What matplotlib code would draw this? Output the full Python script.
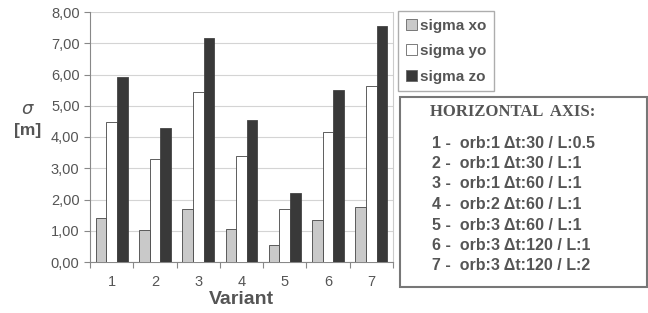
import numpy as np
import matplotlib.pyplot as plt
from matplotlib.patches import Rectangle, Patch

variants = ['1', '2', '3', '4', '5', '6', '7']
sigma_xo = [1.42, 1.01, 1.71, 1.07, 0.53, 1.35, 1.77]
sigma_yo = [4.47, 3.31, 5.45, 3.40, 1.71, 4.17, 5.63]
sigma_zo = [5.91, 4.29, 7.18, 4.56, 2.21, 5.51, 7.56]
series_names = ['sigma xo', 'sigma yo', 'sigma zo']
axis_notes = [
    '1 -  orb:1 \u0394t:30 / L:0.5',
    '2 -  orb:1 \u0394t:30 / L:1',
    '3 -  orb:1 \u0394t:60 / L:1',
    '4 -  orb:2 \u0394t:60 / L:1',
    '5 -  orb:3 \u0394t:60 / L:1',
    '6 -  orb:3 \u0394t:120 / L:1',
    '7 -  orb:3 \u0394t:120 / L:2',
]


def main():
    plt.rcParams['font.family'] = ['Liberation Sans', 'DejaVu Sans']
    text_col = '#555555'
    edge_col = '#444444'
    colors = ['#c9c9c9', '#ffffff', '#393939']

    fig = plt.figure(figsize=(6.48, 3.13), dpi=100)
    ax = fig.add_axes([90 / 648, 51 / 313, 303 / 648, 250 / 313])

    x = np.arange(len(variants))
    w = 0.245
    for k, vals in enumerate([sigma_xo, sigma_yo, sigma_zo]):
        ax.bar(x + (k - 1) * w, vals, width=w, color=colors[k],
               edgecolor=edge_col, linewidth=0.6, zorder=3)

    ax.set_xlim(-0.5, len(variants) - 0.5)
    ax.set_ylim(0, 8)
    ax.set_yticks(np.arange(0, 9, 1))
    ax.yaxis.set_major_formatter(plt.FuncFormatter(lambda v, p: ('%.2f' % v).replace('.', ',')))
    ax.grid(axis='y', color='#d4d4d4', linewidth=0.8, zorder=0)

    # boundary ticks between groups, labels at centres
    ax.set_xticks(np.arange(-0.5, len(variants)), labels=[''] * (len(variants) + 1))
    ax.set_xticks(x, labels=variants, minor=True)
    ax.tick_params(axis='x', which='minor', length=0, pad=9)
    ax.tick_params(axis='both', which='major', length=4, color='#888888')
    ax.tick_params(axis='both', which='both', labelsize=10.5, labelcolor=text_col)

    ax.spines['top'].set_visible(False)
    ax.spines['right'].set_color('#cccccc')
    ax.spines['left'].set_color('#888888')
    ax.spines['bottom'].set_color('#888888')

    ax.set_xlabel('Variant', fontsize=14, fontweight='bold', color=text_col, labelpad=2)
    fig.text(28 / 648, 1 - 110 / 313, r'$\sigma$', fontsize=13, color=text_col,
             ha='center', va='center')
    fig.text(28 / 648, 1 - 130 / 313, '[m]', fontsize=12.5, fontweight='bold',
             color=text_col, ha='center', va='center')

    handles = [Patch(facecolor=c, edgecolor='#666666', linewidth=0.6) for c in colors]
    leg = fig.legend(handles, series_names, loc='upper left',
                     bbox_to_anchor=(398 / 648, 1 - 11 / 313),
                     prop={'weight': 'bold', 'size': 11}, fancybox=False,
                     handlelength=0.75, handleheight=0.75, handletextpad=0.2,
                     labelspacing=0.75, borderpad=0.5, borderaxespad=0)
    leg.get_frame().set_edgecolor('#999999')
    leg.get_frame().set_linewidth(1.0)
    for t in leg.get_texts():
        t.set_color(text_col)

    fig.patches.append(Rectangle((400 / 648, 1 - 287 / 313), 247 / 648, 190 / 313,
                                 transform=fig.transFigure, fill=False,
                                 edgecolor='#777777', linewidth=1.5))
    fig.text(513 / 648, 1 - 112 / 313, 'HORIZONTAL  AXIS:', fontsize=12,
             fontweight='bold', family='Liberation Serif', color=text_col,
             ha='center', va='center')
    for i, line in enumerate(axis_notes):
        fig.text(432 / 648, 1 - (143 + i * 20.5) / 313, line, fontsize=11.5,
                 fontweight='bold', color=text_col, ha='left', va='center')

    fig.savefig('out.png', dpi=100, facecolor='white')


if __name__ == "__main__":
    main()
